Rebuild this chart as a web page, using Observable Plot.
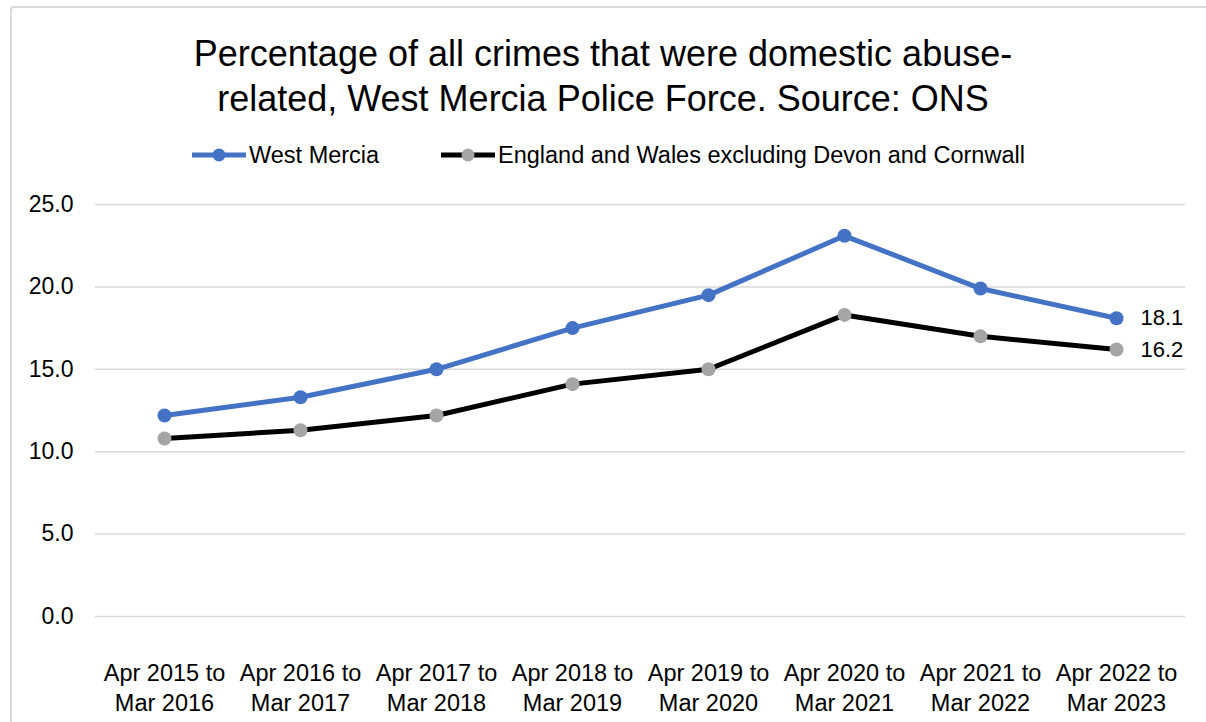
<!DOCTYPE html>
<html>
<head>
<meta charset="utf-8">
<script src="https://cdn.jsdelivr.net/npm/d3@7"></script>
<script src="https://cdn.jsdelivr.net/npm/@observablehq/plot@0.6"></script>
<style>
  html, body { margin: 0; padding: 0; background: #fff; overflow: hidden; }
  body { width: 1206px; height: 722px; position: relative; font-family: "Liberation Sans", Arial, sans-serif; }
  #frame { position: absolute; left: 10px; top: 6px; width: 1400px; height: 900px; border: 2px solid #d9d9d9; border-radius: 4px; box-sizing: border-box; }
  #title { position: absolute; left: 0; top: 31px; width: 1206px; text-align: center; font-size: 36px; line-height: 45px; color: #000; }
  #legend { position: absolute; top: 140px; left: 0; width: 1206px; height: 30px; font-size: 23.5px; color: #000; }
  .leg { position: absolute; top: 0; display: flex; align-items: center; height: 30px; }
  #chart { position: absolute; left: 0; top: 180px; }
</style>
</head>
<body>
<div id="frame"></div>
<div id="title">Percentage of all crimes that were domestic abuse-<br>related, West Mercia Police Force. Source: ONS</div>
<div id="legend">
  <div class="leg" style="left:192px"><svg width="56" height="16"><line x1="0" y1="8" x2="54" y2="8" stroke="#4472C4" stroke-width="5"/><circle cx="27" cy="8" r="6.5" fill="#4472C4"/></svg><span style="margin-left:1px">West Mercia</span></div>
  <div class="leg" style="left:441px"><svg width="56" height="16"><line x1="0" y1="8" x2="54" y2="8" stroke="#000" stroke-width="5"/><circle cx="27" cy="8" r="6.5" fill="#A5A5A5"/></svg><span style="margin-left:1px">England and Wales excluding Devon and Cornwall</span></div>
</div>
<div id="chart"></div>
<script>
const periods = ["Apr 2015 to\nMar 2016", "Apr 2016 to\nMar 2017", "Apr 2017 to\nMar 2018", "Apr 2018 to\nMar 2019", "Apr 2019 to\nMar 2020", "Apr 2020 to\nMar 2021", "Apr 2021 to\nMar 2022", "Apr 2022 to\nMar 2023"];
const westMercia = [12.2, 13.3, 15.0, 17.5, 19.5, 23.1, 19.9, 18.1];
const englandWales = [10.8, 11.3, 12.2, 14.1, 15.0, 18.3, 17.0, 16.2];
const yTicks = [0, 5, 10, 15, 20, 25];

const wm = periods.map((p, i) => ({period: p, value: westMercia[i]}));
const ew = periods.map((p, i) => ({period: p, value: englandWales[i]}));
const lastWm = [wm[wm.length - 1]];
const lastEw = [ew[ew.length - 1]];

const chart = Plot.plot({
  width: 1206,
  height: 542,
  marginTop: 24,
  marginBottom: 106,
  marginLeft: 95,
  marginRight: 21,
  style: {fontFamily: "'Liberation Sans', Arial, sans-serif", fontSize: "23px", color: "#000", background: "transparent", overflow: "visible"},
  x: {type: "point", domain: periods, padding: 0.5, label: null},
  y: {domain: [0, 25], label: null},
  marks: [
    Plot.gridY(yTicks, {stroke: "#d9d9d9", strokeOpacity: 1, strokeWidth: 1.5}),
    Plot.axisY(yTicks, {tickSize: 0, tickPadding: 22, tickFormat: d => d.toFixed(1), fontSize: 23, label: null}),
    Plot.axisX({tickSize: 0, tickPadding: 44, lineHeight: 1.25, fontSize: 23.5, label: null}),
    Plot.line(ew, {x: "period", y: "value", stroke: "#000", strokeWidth: 5}),
    Plot.dot(ew, {x: "period", y: "value", r: 7, fill: "#A5A5A5"}),
    Plot.line(wm, {x: "period", y: "value", stroke: "#4472C4", strokeWidth: 5}),
    Plot.dot(wm, {x: "period", y: "value", r: 7, fill: "#4472C4"}),
    Plot.text(lastWm, {x: "period", y: "value", text: d => d.value.toFixed(1), dx: 24, textAnchor: "start", fontSize: 22, fill: "#000"}),
    Plot.text(lastEw, {x: "period", y: "value", text: d => d.value.toFixed(1), dx: 24, textAnchor: "start", fontSize: 22, fill: "#000"})
  ]
});
document.getElementById("chart").appendChild(chart);
</script>
</body>
</html>
